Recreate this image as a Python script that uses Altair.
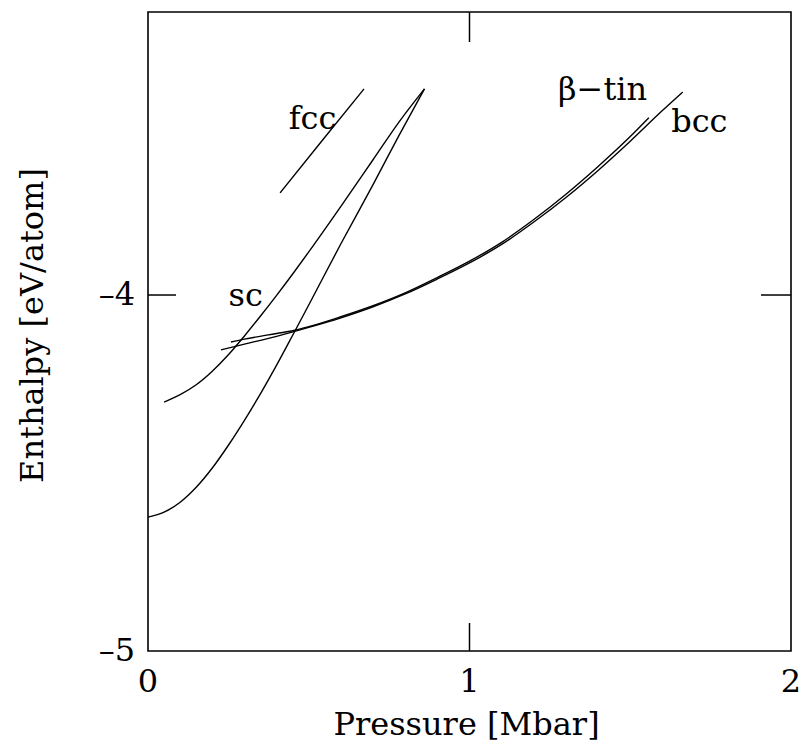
import altair as alt
import pandas as pd

# ---- data ----
diamond_p = [0.00, 0.05, 0.10, 0.15, 0.20, 0.25, 0.30, 0.35, 0.40, 0.45, 0.50, 0.60, 0.70, 0.78, 0.86]
diamond_h = [-4.624, -4.610, -4.582, -4.540, -4.486, -4.422, -4.352, -4.277, -4.197, -4.113, -4.028,
             -3.856, -3.690, -3.553, -3.421]

sc_p = [0.05, 0.10, 0.15, 0.20, 0.25, 0.30, 0.35, 0.40, 0.45, 0.50, 0.60, 0.70, 0.78, 0.86]
sc_h = [-4.301, -4.280, -4.252, -4.214, -4.168, -4.115, -4.059, -4.001, -3.941, -3.879, -3.751,
        -3.620, -3.515, -3.421]

fcc_p = [0.411, 0.540, 0.672]
fcc_h = [-3.713, -3.568, -3.421]

bcc_p = [0.227, 0.30, 0.40, 0.50, 0.60, 0.70, 0.80, 0.90, 1.00, 1.10, 1.20, 1.30, 1.40, 1.50, 1.60, 1.663]
bcc_h = [-4.154, -4.138, -4.116, -4.091, -4.064, -4.033, -3.997, -3.955, -3.910, -3.858, -3.795,
         -3.726, -3.650, -3.568, -3.482, -3.430]

btin_p = [0.258, 0.30, 0.40, 0.457, 0.50, 0.60, 0.70, 0.80, 0.90, 1.00, 1.10, 1.20, 1.30, 1.40, 1.50, 1.558]
btin_h = [-4.132, -4.124, -4.108, -4.099, -4.089, -4.061, -4.030, -3.994, -3.951, -3.905, -3.852,
          -3.788, -3.717, -3.639, -3.555, -3.502]

label_text = ["fcc", "sc", "\u03b2\u2212tin", "bcc"]
label_p = [0.512, 0.304, 1.414, 1.715]
label_h = [-3.506, -4.003, -3.424, -3.514]

x_ticks = [0, 1, 2]
x_tick_labels = ["0", "1", "2"]
y_ticks = [-5, -4]
y_tick_labels = ["\u20135", "\u20134"]
x_inner_ticks = [1]
y_inner_ticks = [-4]

# ---- tables ----
rows = []
for name, ps, hs in [("diamond", diamond_p, diamond_h), ("sc", sc_p, sc_h),
                     ("fcc", fcc_p, fcc_h), ("bcc", bcc_p, bcc_h),
                     ("beta-tin", btin_p, btin_h)]:
    for p, h in zip(ps, hs):
        rows.append({"series": name, "p": p, "h": h})
df = pd.DataFrame(rows)
labels = pd.DataFrame({"text": label_text, "p": label_p, "h": label_h})
xlab = pd.DataFrame({"p": x_ticks, "text": x_tick_labels})
ylab = pd.DataFrame({"h": y_ticks, "text": y_tick_labels})

W, H = 643, 639
FONT = "DejaVu Serif"
FS = 32
TL = 28

xs = alt.Scale(domain=[0, 2], nice=False, zero=False)
ys = alt.Scale(domain=[-5, -3.205], nice=False, zero=False)

x_axis = alt.Axis(values=x_ticks, title="Pressure [Mbar]", grid=False, ticks=False, domain=False,
                  labels=False,
                  titleFont=FONT, titleFontSize=FS, titleFontWeight="normal", titleColor="black",
                  titleX=318, titleY=83, titleBaseline="alphabetic", titleAlign="center")
y_axis = alt.Axis(values=y_ticks, title="Enthalpy [eV/atom]", grid=False, ticks=False, domain=False,
                  labels=False,
                  titleFont=FONT, titleFontSize=FS, titleFontWeight="normal", titleColor="black",
                  titleAngle=270, titleX=-106, titleY=313, titleBaseline="alphabetic", titleAlign="center")


def X():
    return alt.X("p:Q", scale=xs, axis=x_axis)


def Y():
    return alt.Y("h:Q", scale=ys, axis=y_axis)


lines = alt.Chart(df).mark_line(color="black", strokeWidth=1.4, interpolate="monotone").encode(
    x=X(), y=Y(), detail="series:N",
)

texts = alt.Chart(labels).mark_text(font=FONT, fontSize=FS, color="black",
                                    align="center", baseline="middle").encode(
    x=X(), y=Y(), text="text:N",
)

xticktext = alt.Chart(xlab).mark_text(font=FONT, fontSize=FS, color="black",
                                      align="center", baseline="top").encode(
    x=X(), y=alt.value(H + 16), text="text:N")
yticktext = alt.Chart(ylab).mark_text(font=FONT, fontSize=FS, color="black",
                                      align="right", baseline="middle").encode(
    y=Y(), x=alt.value(-13), text="text:N")

xt = pd.DataFrame({"p": x_inner_ticks})
yt = pd.DataFrame({"h": y_inner_ticks})
tick_b = alt.Chart(xt).mark_rule(color="black", strokeWidth=1.5).encode(
    x=X(), y=alt.value(H), y2=alt.value(H - TL))
tick_t = alt.Chart(xt).mark_rule(color="black", strokeWidth=1.5).encode(
    x=X(), y=alt.value(0), y2=alt.value(TL + 2))
tick_l = alt.Chart(yt).mark_rule(color="black", strokeWidth=1.5).encode(
    y=Y(), x=alt.value(0), x2=alt.value(TL))
tick_r = alt.Chart(yt).mark_rule(color="black", strokeWidth=1.5).encode(
    y=Y(), x=alt.value(W - TL - 2), x2=alt.value(W))

chart = alt.layer(lines, texts, xticktext, yticktext, tick_b, tick_t, tick_l, tick_r).properties(
    width=W, height=H,
    autosize=alt.AutoSizeParams(type="none"),
    padding={"left": 140, "top": 4, "right": 9, "bottom": 92},
    background="white",
).configure_view(stroke="black", strokeWidth=1.6)

chart.save("out.html", embed_options={"renderer": "svg", "actions": False})
